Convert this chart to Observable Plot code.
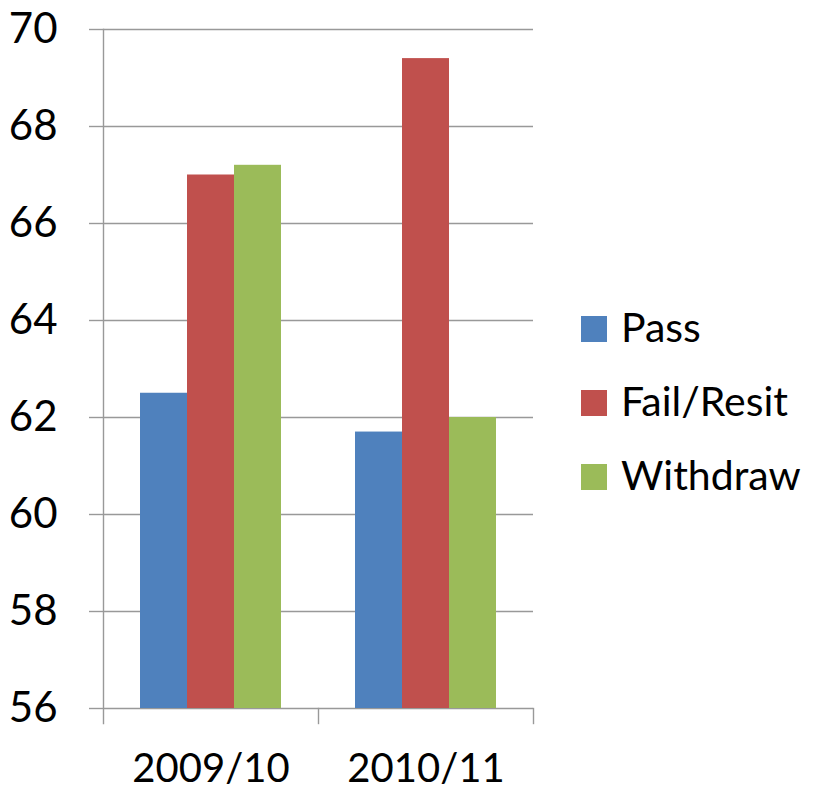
<!DOCTYPE html>
<html><head><meta charset="utf-8">
<script src="https://cdn.jsdelivr.net/npm/d3@7"></script>
<script src="https://cdn.jsdelivr.net/npm/@observablehq/plot@0.6"></script>
<style>
body{margin:0;background:#fff;font-family:Lato,sans-serif}
#wrap{position:relative;width:817px;height:792px}
#legend{position:absolute;left:581px;top:289px}
.item{display:flex;align-items:center;height:74px;font-size:41px;color:#000}
.sw{width:26px;height:26px;margin-right:14px;margin-top:6px}
</style></head>
<body><div id="wrap"><div id="chart"></div><div id="legend"></div></div>
<script>
const years = ["2009/10", "2010/11"];
const series = ["Pass", "Fail/Resit", "Withdraw"];
const pass = [62.5, 61.7];
const failResit = [67.0, 69.4];
const withdraw = [67.2, 62.0];
const yTicks = [56, 58, 60, 62, 64, 66, 68, 70];
const colors = ["#4F81BD", "#C0504D", "#9BBB59"];

const values = [pass, failResit, withdraw];
const data = [];
years.forEach((yr, i) => series.forEach((s, j) => data.push({year: yr, series: s, value: values[j][i]})));

const W = 817, H = 792, mt = 29, mb = 84, ml = 103, mr = 284;
const plotH = H - mt - mb;
const grid = "#999";

const chart = Plot.plot({
  width: W, height: H,
  marginTop: mt, marginBottom: mb, marginLeft: ml, marginRight: mr,
  style: {fontFamily: "Lato, sans-serif", color: "#000", background: "#fff", overflow: "visible"},
  fx: {domain: years, padding: 0, label: null},
  x: {domain: series, paddingInner: 0, paddingOuter: 0.74, axis: null},
  y: {domain: [yTicks[0], yTicks[yTicks.length - 1]], axis: null},
  color: {domain: series, range: colors},
  marks: [
    Plot.ruleY(yTicks, {stroke: grid, strokeWidth: 1.4}),
    Plot.barY(data, {fx: "year", x: "series", y1: () => yTicks[0], y2: "value", fill: "series"}),
    Plot.frame({anchor: "left", facet: "super", stroke: grid, strokeWidth: 1.4, insetBottom: -15}),
    Plot.frame({anchor: "right", stroke: grid, strokeWidth: 1.4, insetTop: plotH, insetBottom: -15}),
    Plot.axisY(yTicks, {anchor: "left", tickSize: 14, tickPadding: 32, stroke: grid, strokeWidth: 1.4, fill: "#000", fontSize: 42, label: null}),
    Plot.axisFx({anchor: "bottom", tickSize: 0, tickPadding: 45, fontSize: 40, fill: "#000", label: null})
  ]
});
document.getElementById("chart").appendChild(chart);

const legend = document.getElementById("legend");
series.forEach((s, i) => {
  const it = document.createElement("div"); it.className = "item";
  const sw = document.createElement("div"); sw.className = "sw"; sw.style.background = colors[i];
  const t = document.createElement("span"); t.textContent = s;
  it.appendChild(sw); it.appendChild(t); legend.appendChild(it);
});
</script></body></html>
